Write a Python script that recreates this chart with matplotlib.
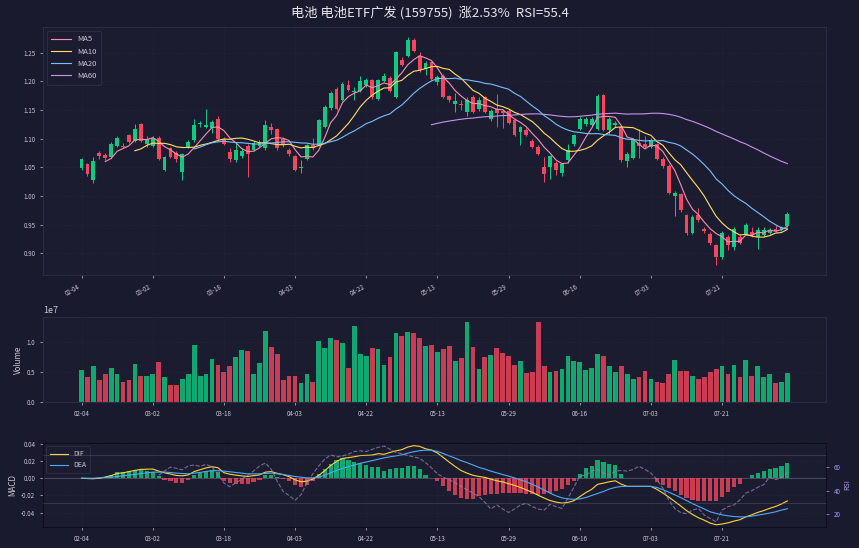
import numpy as np
import pandas as pd
import matplotlib
matplotlib.use("Agg")
import matplotlib.pyplot as plt

plt.rcParams['font.family'] = ['Noto Sans CJK SC', 'DejaVu Sans']
plt.rcParams['axes.unicode_minus'] = False

# ---------------- data ----------------
tick_pos = [0, 12, 24, 36, 48, 60, 72, 84, 96, 108]
tick_labels = ["02-04", "03-02", "03-18", "04-03", "04-22", "05-13", "05-29", "06-16", "07-03", "07-21"]

opens = [1.049, 1.055, 1.028, 1.075, 1.072, 1.068, 1.088, 1.088, 1.106, 1.096,
         1.126, 1.090, 1.087, 1.102, 1.045, 1.083, 1.075, 1.042, 1.086, 1.097,
         1.126, 1.120, 1.118, 1.135, 1.100, 1.077, 1.062, 1.069, 1.087, 1.080,
         1.087, 1.083, 1.120, 1.116, 1.100, 1.081, 1.069, 1.048, 1.065, 1.089,
         1.089, 1.120, 1.154, 1.186, 1.167, 1.193, 1.181, 1.184, 1.193, 1.202,
         1.170, 1.201, 1.206, 1.173, 1.238, 1.245, 1.273, 1.245, 1.222, 1.233,
         1.199, 1.210, 1.174, 1.161, 1.161, 1.147, 1.173, 1.152, 1.172, 1.135,
         1.152, 1.149, 1.149, 1.133, 1.112, 1.115, 1.096, 1.086, 1.051, 1.051,
         1.058, 1.040, 1.062, 1.091, 1.117, 1.125, 1.123, 1.117, 1.176, 1.115,
         1.124, 1.121, 1.061, 1.067, 1.092, 1.090, 1.086, 1.090, 1.065, 1.053,
         1.000, 1.003, 0.966, 0.935, 0.966, 0.943, 0.934, 0.914, 0.894, 0.929,
         0.911, 0.929, 0.934, 0.937, 0.929, 0.932, 0.936, 0.943, 0.941, 0.947]
highs = [1.067, 1.058, 1.068, 1.078, 1.075, 1.095, 1.105, 1.092, 1.108, 1.125,
         1.128, 1.104, 1.104, 1.105, 1.070, 1.085, 1.078, 1.075, 1.097, 1.135,
         1.131, 1.152, 1.132, 1.140, 1.103, 1.083, 1.092, 1.083, 1.090, 1.096,
         1.098, 1.132, 1.128, 1.119, 1.102, 1.084, 1.071, 1.062, 1.091, 1.101,
         1.135, 1.159, 1.183, 1.190, 1.199, 1.202, 1.190, 1.210, 1.206, 1.205,
         1.205, 1.215, 1.210, 1.253, 1.242, 1.278, 1.276, 1.252, 1.236, 1.236,
         1.212, 1.213, 1.177, 1.180, 1.168, 1.172, 1.176, 1.172, 1.175, 1.151,
         1.178, 1.152, 1.152, 1.136, 1.122, 1.118, 1.099, 1.089, 1.068, 1.072,
         1.061, 1.058, 1.090, 1.108, 1.137, 1.138, 1.137, 1.178, 1.178, 1.138,
         1.130, 1.124, 1.076, 1.102, 1.116, 1.104, 1.101, 1.093, 1.068, 1.055,
         1.008, 1.006, 0.969, 0.967, 0.979, 0.946, 0.937, 0.916, 0.938, 0.932,
         0.946, 0.934, 0.952, 0.946, 0.946, 0.946, 0.944, 0.950, 0.948, 0.972]
lows = [1.045, 1.035, 1.022, 1.064, 1.062, 1.066, 1.086, 1.083, 1.092, 1.094,
        1.095, 1.086, 1.085, 1.063, 1.043, 1.066, 1.060, 1.027, 1.083, 1.095,
        1.120, 1.118, 1.110, 1.098, 1.089, 1.060, 1.060, 1.066, 1.033, 1.078,
        1.085, 1.081, 1.108, 1.080, 1.085, 1.070, 1.043, 1.040, 1.063, 1.080,
        1.087, 1.118, 1.150, 1.150, 1.165, 1.183, 1.167, 1.182, 1.190, 1.170,
        1.168, 1.199, 1.182, 1.171, 1.226, 1.243, 1.251, 1.217, 1.212, 1.203,
        1.194, 1.171, 1.164, 1.146, 1.150, 1.140, 1.145, 1.148, 1.145, 1.131,
        1.120, 1.118, 1.125, 1.104, 1.089, 1.104, 1.084, 1.072, 1.025, 1.030,
        1.037, 1.035, 1.058, 1.088, 1.115, 1.122, 1.120, 1.115, 1.113, 1.108,
        1.120, 1.060, 1.050, 1.065, 1.066, 1.084, 1.083, 1.063, 1.049, 1.003,
        0.965, 0.972, 0.932, 0.933, 0.955, 0.936, 0.914, 0.880, 0.890, 0.905,
        0.906, 0.916, 0.931, 0.929, 0.907, 0.929, 0.934, 0.937, 0.938, 0.945]
closes = [1.064, 1.039, 1.061, 1.070, 1.066, 1.091, 1.102, 1.085, 1.094, 1.117,
          1.096, 1.100, 1.101, 1.065, 1.068, 1.068, 1.064, 1.073, 1.094, 1.123,
          1.128, 1.123, 1.129, 1.100, 1.091, 1.064, 1.081, 1.078, 1.074, 1.093,
          1.094, 1.123, 1.115, 1.083, 1.089, 1.073, 1.045, 1.050, 1.089, 1.083,
          1.132, 1.155, 1.180, 1.152, 1.196, 1.185, 1.184, 1.201, 1.202, 1.173,
          1.202, 1.209, 1.184, 1.251, 1.228, 1.273, 1.253, 1.219, 1.232, 1.205,
          1.208, 1.173, 1.167, 1.166, 1.158, 1.168, 1.147, 1.168, 1.147, 1.149,
          1.145, 1.144, 1.127, 1.106, 1.120, 1.106, 1.086, 1.074, 1.039, 1.069,
          1.045, 1.055, 1.080, 1.106, 1.135, 1.135, 1.135, 1.174, 1.115, 1.135,
          1.127, 1.062, 1.074, 1.100, 1.088, 1.086, 1.097, 1.065, 1.052, 1.005,
          1.005, 0.975, 0.935, 0.964, 0.958, 0.939, 0.917, 0.894, 0.935, 0.914,
          0.943, 0.918, 0.949, 0.932, 0.940, 0.940, 0.941, 0.939, 0.945, 0.969]
volume = [0.53, 0.41, 0.59, 0.36, 0.46, 0.57, 0.46, 0.33, 0.36, 0.63,
          0.44, 0.43, 0.46, 0.66, 0.41, 0.28, 0.29, 0.39, 0.46, 0.94,
          0.44, 0.47, 0.72, 0.62, 0.49, 0.59, 0.74, 0.86, 0.84, 0.46,
          0.64, 1.18, 0.92, 0.79, 0.37, 0.44, 0.43, 0.32, 0.47, 0.33,
          1.01, 0.89, 1.07, 1.03, 0.98, 0.57, 1.26, 0.79, 0.76, 0.89,
          0.88, 0.61, 0.75, 1.14, 1.09, 1.17, 1.15, 1.07, 0.93, 0.94,
          0.83, 0.88, 0.93, 0.68, 0.73, 1.33, 0.92, 0.55, 0.75, 0.78,
          0.90, 0.82, 0.76, 0.62, 0.68, 0.48, 0.50, 1.33, 0.59, 0.50,
          0.51, 0.54, 0.76, 0.68, 0.66, 0.53, 0.56, 0.79, 0.76, 0.59,
          0.49, 0.59, 0.46, 0.38, 0.42, 0.51, 0.38, 0.34, 0.32, 0.47,
          0.69, 0.51, 0.51, 0.44, 0.39, 0.41, 0.49, 0.54, 0.59, 0.47,
          0.61, 0.41, 0.69, 0.43, 0.59, 0.41, 0.46, 0.31, 0.34, 0.48]  # x1e7
dif = [0.0000, -0.0004, -0.0006, 0.0000, 0.0014, 0.0030, 0.0055, 0.0063, 0.0077, 0.0091,
       0.0103, 0.0105, 0.0107, 0.0083, 0.0063, 0.0049, 0.0032, 0.0028, 0.0039, 0.0077,
       0.0099, 0.0120, 0.0134, 0.0122, 0.0065, 0.0047, 0.0036, 0.0028, 0.0020, 0.0030,
       0.0039, 0.0071, 0.0077, 0.0057, 0.0041, 0.0018, -0.0018, -0.0041, -0.0034, -0.0010,
       0.0034, 0.0087, 0.0148, 0.0195, 0.0231, 0.0239, 0.0250, 0.0264, 0.0266, 0.0270,
       0.0286, 0.0278, 0.0300, 0.0318, 0.0333, 0.0363, 0.0379, 0.0371, 0.0343, 0.0327,
       0.0294, 0.0241, 0.0187, 0.0136, 0.0089, 0.0059, 0.0034, 0.0020, 0.0010, -0.0010,
       -0.0030, -0.0043, -0.0063, -0.0083, -0.0107, -0.0136, -0.0164, -0.0199, -0.0231, -0.0260,
       -0.0278, -0.0290, -0.0282, -0.0262, -0.0215, -0.0168, -0.0130, -0.0071, -0.0057, -0.0041,
       -0.0030, -0.0069, -0.0095, -0.0095, -0.0095, -0.0095, -0.0095, -0.0130, -0.0172, -0.0219,
       -0.0270, -0.0322, -0.0377, -0.0422, -0.0460, -0.0489, -0.0523, -0.0542, -0.0533, -0.0519,
       -0.0499, -0.0483, -0.0450, -0.0426, -0.0398, -0.0377, -0.0351, -0.0329, -0.0300, -0.0264]
dea = [0.0000, 0.0000, 0.0000, 0.0004, 0.0008, 0.0012, 0.0020, 0.0028, 0.0036, 0.0043,
       0.0055, 0.0063, 0.0071, 0.0071, 0.0071, 0.0067, 0.0059, 0.0055, 0.0051, 0.0059,
       0.0067, 0.0079, 0.0087, 0.0087, 0.0083, 0.0075, 0.0067, 0.0059, 0.0051, 0.0051,
       0.0051, 0.0055, 0.0059, 0.0051, 0.0043, 0.0032, 0.0020, 0.0012, 0.0004, 0.0004,
       0.0012, 0.0036, 0.0063, 0.0091, 0.0114, 0.0134, 0.0154, 0.0174, 0.0189, 0.0205,
       0.0221, 0.0237, 0.0249, 0.0260, 0.0272, 0.0292, 0.0308, 0.0320, 0.0327, 0.0327,
       0.0312, 0.0288, 0.0260, 0.0233, 0.0205, 0.0181, 0.0154, 0.0126, 0.0107, 0.0083,
       0.0063, 0.0043, 0.0024, 0.0004, -0.0020, -0.0043, -0.0071, -0.0103, -0.0138, -0.0174,
       -0.0205, -0.0229, -0.0241, -0.0245, -0.0241, -0.0225, -0.0201, -0.0178, -0.0154, -0.0126,
       -0.0107, -0.0095, -0.0095, -0.0095, -0.0095, -0.0095, -0.0095, -0.0107, -0.0134, -0.0162,
       -0.0193, -0.0225, -0.0260, -0.0296, -0.0327, -0.0359, -0.0391, -0.0410, -0.0426, -0.0438,
       -0.0446, -0.0450, -0.0450, -0.0442, -0.0430, -0.0418, -0.0406, -0.0391, -0.0371, -0.0355]
rsi_start = 13
rsi = [53.0, 56.6, 60.0, 58.9, 57.7, 60.9, 61.7, 60.6, 62.3, 60.0,
       53.7, 46.6, 43.4, 46.6, 49.7, 53.1, 56.6, 60.9, 63.4, 58.0,
       48.0, 39.4, 36.0, 32.0, 36.6, 46.6, 54.3, 60.9, 66.6, 70.3,
       68.6, 69.4, 70.9, 73.1, 73.7, 73.1, 74.9, 76.6, 77.7, 75.1,
       72.3, 71.4, 69.7, 68.6, 67.4, 63.7, 59.4,
       54.3, 51.4, 49.4, 46.6, 43.7, 40.9, 38.0, 35.1, 30.3, 24.6,
       28.0, 24.6, 21.7, 24.6, 28.0, 29.4, 26.6, 24.6, 23.7, 28.6,
       26.6, 25.1, 33.7, 42.9, 52.3, 53.1, 56.6, 58.0, 55.1, 53.1,
       56.6, 57.1, 56.6, 58.0, 60.6, 58.0, 54.9, 49.4, 42.3, 32.3,
       25.1, 21.7, 20.6, 23.7, 25.1, 19.4, 16.6, 13.7, 23.7, 26.6,
       28.0, 32.3, 38.0, 40.0, 42.9, 45.1, 51.4, 49.4, 51.0, 55.4]

title = "电池 电池ETF广发 (159755)  涨2.53%  RSI=55.4"

# ---------------- style ----------------
BG = '#1a1a2e'
AX_BG = '#1c1c31'
UP = '#0ecb81'
DOWN = '#f6465d'
TXT = '#c9c9d3'
SPINE = '#2b2b42'
MA_COLORS = {'MA5': '#f48fb1', 'MA10': '#ffe066', 'MA20': '#74c0fc', 'MA60': '#c792ea'}

n = len(closes)
x = np.arange(n)
o = np.array(opens); h = np.array(highs); l = np.array(lows); c = np.array(closes)
up = c >= o
cols = np.where(up, UP, DOWN)

fig = plt.figure(figsize=(8.59, 5.48), dpi=100, facecolor=BG)
ax1 = fig.add_axes([0.050, 0.4982, 0.9115, 0.4526])
ax2 = fig.add_axes([0.050, 0.2664, 0.9115, 0.1550], sharex=ax1)
ax3 = fig.add_axes([0.050, 0.0383, 0.9115, 0.1533], sharex=ax1)

for ax in (ax1, ax2, ax3):
    ax.set_facecolor(AX_BG)
    for s in ax.spines.values():
        s.set_color(SPINE)
        s.set_linewidth(0.8)
    ax.tick_params(colors=TXT, labelsize=4.5, length=2, width=0.5)
    ax.grid(True, color='#2e2e48', linestyle=':', linewidth=0.5, alpha=0.6)
    ax.set_axisbelow(True)

# ---- candles ----
ax1.vlines(x, l, h, colors=cols, linewidth=0.7, zorder=2)
body_bot = np.minimum(o, c)
body_h = np.maximum(np.abs(c - o), 0.0012)
ax1.bar(x, body_h, bottom=body_bot, width=0.65, color=cols, linewidth=0, zorder=3)

cs = pd.Series(closes)
for w in (5, 10, 20, 60):
    ma = cs.rolling(w).mean()
    ax1.plot(x, ma, color=MA_COLORS[f'MA{w}'], linewidth=0.8, label=f'MA{w}', zorder=4)

ax1.set_xlim(-6.5, 125.5)
ax1.set_ylim(0.862, 1.295)
price_ticks = [0.90, 0.95, 1.00, 1.05, 1.10, 1.15, 1.20, 1.25]
ax1.set_yticks(price_ticks)
ax1.set_yticklabels([f'{v:.2f}' for v in price_ticks])
leg1 = ax1.legend(loc='upper left', fontsize=5.5, frameon=True, facecolor='#1c1c31',
                  edgecolor='#34344c', labelcolor=TXT, handlelength=2.6, borderpad=0.6,
                  labelspacing=0.55)
leg1.get_frame().set_linewidth(0.6)

# ---- volume ----
vol = np.array(volume) * 1e7
ax2.bar(x, vol, width=0.8, color=cols, alpha=0.8, linewidth=0)
ax2.set_ylim(0, 1.41e7)
ax2.set_yticks([0, 0.5e7, 1.0e7])
ax2.set_ylabel('Volume', color=TXT, fontsize=5.8, labelpad=3)
ax2.yaxis.get_offset_text().set_color(TXT)
ax2.yaxis.get_offset_text().set_fontsize(6.5)

# ---- MACD ----
dif_a = np.array(dif); dea_a = np.array(dea)
hist = 2 * (dif_a - dea_a)
hcols = np.where(hist >= 0, UP, DOWN)
ax3.bar(x, hist, width=0.7, color=hcols, alpha=0.8, linewidth=0, zorder=2)
ax3.plot(x, dif_a, color='#ffd43b', linewidth=0.8, label='DIF', zorder=4)
ax3.plot(x, dea_a, color='#4dabf7', linewidth=0.8, label='DEA', zorder=4)
ax3.axhline(0, color='#7a7a8c', linewidth=0.5, alpha=0.7, zorder=1)
ax3.set_ylim(-0.0568, 0.041)
ax3.set_yticks([-0.04, -0.02, 0.0, 0.02, 0.04])
ax3.set_yticklabels(['-0.04', '-0.02', '0.00', '0.02', '0.04'])
ax3.set_ylabel('MACD', color=TXT, fontsize=5.8, labelpad=3)
leg3 = ax3.legend(loc='upper left', fontsize=5, frameon=True, facecolor='#1c1c31',
                  edgecolor='#34344c', labelcolor=TXT, handlelength=2.6, borderpad=0.5,
                  labelspacing=0.5)
leg3.get_frame().set_linewidth(0.6)
for s in ax3.spines.values():
    s.set_color('#0e0e18')

ax4 = ax3.twinx()
rx = np.arange(rsi_start, rsi_start + len(rsi))
ax4.plot(rx, rsi, color='#8f86b8', linewidth=0.8, linestyle='--', alpha=0.75, zorder=3)
ax4.axhline(70, color='#6a6a80', linewidth=0.5, alpha=0.5)
ax4.axhline(30, color='#6a6a80', linewidth=0.5, alpha=0.5)
ax4.set_ylim(9.4, 80.3)
ax4.set_yticks([20, 40, 60])
ax4.tick_params(colors='#b197fc', labelsize=4.5, length=2, width=0.5)
ax4.set_ylabel('RSI', color='#b197fc', fontsize=5, labelpad=2)
for s in ax4.spines.values():
    s.set_visible(False)

# ---- x ticks ----
ax1.set_xticks(tick_pos)
ax1.set_xticklabels(tick_labels)
for ax in (ax1, ax2, ax3):
    ax.tick_params(axis='x', labelbottom=True)
plt.setp(ax1.get_xticklabels(), rotation=30, ha='right', fontsize=4.5)

fig.text(0.5, 0.977, title, ha='center', va='center', color='#e6e6ee', fontsize=9.5)

fig.savefig('out.png', dpi=100, facecolor=BG)
